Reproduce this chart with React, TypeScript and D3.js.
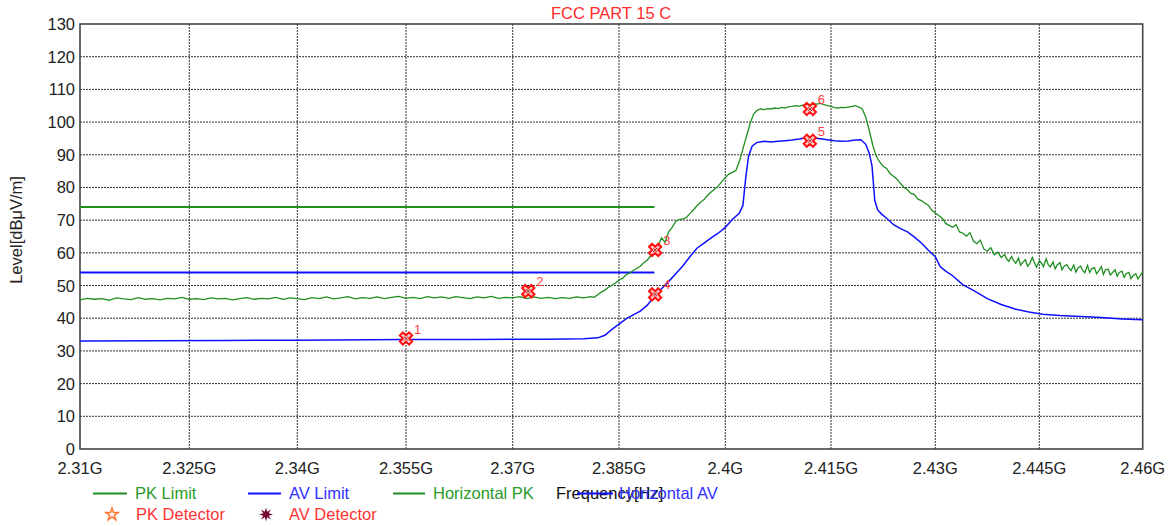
import React, { useEffect, useRef } from "react";
import * as d3 from "d3";

// ---------- data ----------
const xTicks = [2310, 2325, 2340, 2355, 2370, 2385, 2400, 2415, 2430, 2445, 2460];
const xTickLabels = ["2.31G", "2.325G", "2.34G", "2.355G", "2.37G", "2.385G", "2.4G", "2.415G", "2.43G", "2.445G", "2.46G"];
const yTicks = [0, 10, 20, 30, 40, 50, 60, 70, 80, 90, 100, 110, 120, 130];

const pkLimit: [number, number][] = [[2310, 74], [2390, 74]];
const avLimit: [number, number][] = [[2310, 54], [2390, 54]];

const horizontalPK: [number, number][] = [
  [2310, 45.6], [2311, 46.1], [2312, 45.8], [2313, 46.0], [2314, 45.5], [2315, 46.2], [2316, 45.9], [2317, 45.7],
  [2318, 46.3], [2319, 45.8], [2320, 46.0], [2321, 45.6], [2322, 46.1], [2323, 45.9], [2324, 46.4], [2325, 45.8],
  [2326, 46.0], [2327, 45.7], [2328, 46.2], [2329, 45.9], [2330, 46.1], [2331, 45.6], [2332, 46.0], [2333, 46.3],
  [2334, 45.8], [2335, 46.1], [2336, 45.9], [2337, 46.4], [2338, 45.8], [2339, 46.2], [2340, 46.0], [2341, 45.7],
  [2342, 46.3], [2343, 46.0], [2344, 46.5], [2345, 45.9], [2346, 46.2], [2347, 46.6], [2348, 45.9], [2349, 46.3],
  [2350, 46.1], [2351, 46.5], [2352, 46.0], [2353, 46.4], [2354, 46.7], [2355, 46.1], [2356, 46.4], [2357, 46.0],
  [2358, 46.6], [2359, 46.2], [2360, 46.5], [2361, 46.1], [2362, 46.6], [2363, 46.3], [2364, 46.0], [2365, 46.5],
  [2366, 46.2], [2367, 46.7], [2368, 46.1], [2369, 46.4], [2370, 46.2], [2371, 46.6], [2372, 46.0], [2373, 46.5],
  [2374, 46.1], [2375, 46.4], [2376, 46.0], [2377, 46.3], [2378, 46.1], [2379, 46.5], [2380, 46.2], [2381, 46.6],
  [2381.5, 46.4], [2382, 47.2], [2382.5, 48.0], [2383, 48.6], [2383.5, 49.5], [2384, 50.1], [2384.5, 50.8],
  [2385, 51.7], [2385.5, 52.2], [2386, 53.3], [2386.5, 53.8], [2387, 54.6], [2387.5, 55.2], [2388, 55.9],
  [2388.5, 57.0], [2389, 57.8], [2389.5, 59.1], [2390, 60.5], [2390.5, 62.0], [2391, 64.6], [2391.5, 63.2],
  [2392, 66.4], [2392.5, 67.8], [2393, 69.6], [2393.5, 70.2], [2394, 70.4], [2394.5, 70.8], [2395, 72.0],
  [2395.5, 73.1], [2396, 74.4], [2396.5, 75.5], [2397, 76.3], [2397.5, 77.6], [2398, 78.6], [2398.5, 79.5],
  [2399, 80.4], [2399.5, 81.8], [2400, 83.0], [2400.5, 84.1], [2401, 84.6], [2401.5, 85.2], [2402, 88.0],
  [2402.5, 91.8], [2403, 95.6], [2403.5, 99.4], [2404, 102.4], [2404.5, 103.6],
  [2405, 104.0], [2405.5, 103.8], [2406, 104.1], [2406.5, 104.0], [2407, 104.3], [2407.5, 104.1], [2408, 104.5],
  [2408.5, 104.3], [2409, 104.7], [2409.5, 104.8], [2410, 105.0], [2410.5, 104.9], [2411, 105.2], [2411.5, 105.3],
  [2412, 105.4], [2412.5, 105.6], [2413, 105.5], [2413.5, 105.7], [2414, 105.3], [2414.5, 105.0], [2415, 104.8],
  [2415.5, 104.4], [2416, 104.3], [2416.5, 104.5], [2417, 104.4], [2417.5, 104.6], [2418, 104.8], [2418.5, 105.0],
  [2419, 104.6], [2419.5, 104.0], [2420, 101.5], [2420.5, 97.5], [2421, 93.0], [2421.5, 89.6], [2422, 87.8],
  [2422.5, 86.5], [2423, 85.8], [2423.5, 84.2], [2424, 83.4], [2424.5, 82.5], [2425, 81.2], [2425.5, 80.0],
  [2426, 79.3], [2426.5, 78.2], [2427, 77.8], [2427.5, 76.4], [2428, 76.0], [2428.5, 75.2], [2429, 74.6],
  [2429.5, 73.0], [2430, 72.2], [2430.5, 71.4], [2431, 70.6], [2431.5, 69.0], [2432, 68.4], [2432.5, 67.8],
  [2433, 68.6], [2433.5, 66.4], [2434, 66.0], [2434.5, 65.1], [2435, 66.2], [2435.5, 63.6], [2436, 62.8],
  [2436.5, 63.9], [2437, 61.2], [2437.5, 60.5], [2438, 61.6], [2438.5, 59.4], [2439, 60.2], [2439.5, 58.6],
  [2440, 59.5], [2440.3, 58.1], [2440.6, 57.4], [2441, 58.9], [2441.3, 57.6], [2441.6, 56.8], [2442, 58.4],
  [2442.3, 56.2], [2442.6, 57.1], [2443, 57.9], [2443.3, 55.9], [2443.6, 56.6], [2444, 58.6], [2444.3, 57.0],
  [2444.6, 55.6], [2445, 57.6], [2445.3, 56.9], [2445.6, 55.8], [2446, 58.2], [2446.3, 56.4], [2446.6, 55.7],
  [2447, 57.2], [2447.3, 55.1], [2447.6, 56.3], [2448, 57.0], [2448.3, 54.8], [2448.6, 55.9], [2449, 56.4],
  [2449.3, 55.3], [2449.6, 54.6], [2450, 56.3], [2450.3, 54.1], [2450.6, 55.4], [2451, 55.9], [2451.3, 54.6],
  [2451.6, 53.9], [2452, 56.2], [2452.3, 54.0], [2452.6, 55.1], [2453, 55.5], [2453.3, 53.6], [2453.6, 54.4],
  [2454, 55.8], [2454.3, 53.4], [2454.6, 54.9], [2455, 55.0], [2455.3, 53.2], [2455.6, 53.9], [2456, 54.8],
  [2456.3, 52.8], [2456.6, 54.0], [2457, 54.4], [2457.3, 52.5], [2457.6, 53.6], [2458, 54.0], [2458.3, 52.1],
  [2458.6, 53.0], [2459, 53.6], [2459.3, 52.0], [2459.6, 52.9], [2460, 54.2],
];

const horizontalAV: [number, number][] = [
  [2310, 33.0], [2320, 33.1], [2330, 33.2], [2340, 33.3], [2350, 33.4], [2355, 33.5], [2365, 33.5], [2375, 33.6],
  [2380, 33.7], [2382, 34.0], [2383, 34.8], [2384, 36.6], [2385, 38.2], [2386, 39.8], [2387, 41.0], [2388, 42.2],
  [2389, 44.0], [2390, 46.8], [2391, 49.0], [2392, 51.2], [2393, 53.6], [2394, 56.0], [2395, 58.8], [2396, 61.4],
  [2397, 63.0], [2398, 64.6], [2399, 66.0], [2400, 67.8], [2401, 70.2], [2402, 72.2], [2402.5, 74.5], [2402.9, 83.0],
  [2403.3, 89.5], [2403.8, 92.6], [2404.5, 93.8], [2405.5, 94.1], [2406.5, 93.9], [2407.5, 94.1], [2408.5, 94.3],
  [2409.5, 94.5], [2410.5, 94.8], [2411.5, 95.2], [2412.5, 95.1], [2413.5, 94.9], [2414.5, 94.6], [2415.5, 94.3],
  [2416.5, 94.1], [2417.5, 94.2], [2418.5, 94.5], [2419.3, 94.6], [2420, 93.2], [2420.5, 90.5], [2420.9, 86.5],
  [2421.3, 76.0], [2421.7, 73.2], [2422.2, 72.0], [2423, 70.6], [2424, 68.6], [2425, 67.4], [2426, 66.4],
  [2427, 64.8], [2428, 63.0], [2429, 60.8], [2430, 58.8], [2430.7, 55.8], [2431.5, 54.4], [2432.5, 53.0],
  [2434, 50.2], [2435.5, 48.5], [2437.5, 46.0], [2439.5, 44.2], [2441.5, 42.8], [2443.5, 41.9], [2445.5, 41.2],
  [2448, 40.8], [2451, 40.5], [2454, 40.2], [2457, 39.8], [2460, 39.5],
];

const markerIds = [1, 2, 3, 4, 5, 6];
const markerFreqs = [2355, 2372.2, 2390.1, 2390.1, 2412, 2412];
const markerLevels = [33.8, 48.3, 60.9, 47.3, 94.3, 104.0];

// ---------- layout ----------
const W = 1172, H = 526;
const top = 24, bottom = 449;
const xRange = [80, 189.3, 297.3, 406, 512.7, 619, 725.3, 831, 935.3, 1039.3, 1142.7];
const FONT = "Arial, 'Liberation Sans', sans-serif";
const GREEN = "#1f8f1f";
const BLUE = "#1010ff";

export default function App() {
  const ref = useRef<SVGSVGElement>(null);

  useEffect(() => {
    document.body.style.margin = "0";
    const svg = d3.select(ref.current);
    svg.selectAll("*").remove();

    const x = d3.scaleLinear().domain(xTicks).range(xRange);
    const y = d3.scaleLinear().domain([0, 130]).range([bottom, top]);
    const left = xRange[0], right = xRange[xRange.length - 1];

    svg.append("rect").attr("width", W).attr("height", H).attr("fill", "#fff");

    // title
    svg.append("text").attr("x", 611).attr("y", 19).attr("text-anchor", "middle")
      .attr("font-family", FONT).attr("font-size", 16.5).attr("fill", "#ff2a2a").text("FCC PART 15 C");

    // grid
    const g = svg.append("g");
    g.selectAll(".hg").data(yTicks.slice(1, -1)).enter().append("line")
      .attr("x1", left).attr("x2", right).attr("y1", d => y(d)).attr("y2", d => y(d))
      .attr("stroke", "#333").attr("stroke-width", 1).attr("stroke-dasharray", "2,1");
    g.selectAll(".vg").data(xTicks.slice(1, -1)).enter().append("line")
      .attr("y1", top).attr("y2", bottom).attr("x1", d => x(d)).attr("x2", d => x(d))
      .attr("stroke", "#333").attr("stroke-width", 1).attr("stroke-dasharray", "2,1");

    // border
    svg.append("rect").attr("x", left).attr("y", top).attr("width", right - left).attr("height", bottom - top)
      .attr("fill", "none").attr("stroke", "#444").attr("stroke-width", 1.6);

    // tick labels
    svg.selectAll(".yl").data(yTicks).enter().append("text")
      .attr("x", 75).attr("y", d => y(d) + 6).attr("text-anchor", "end")
      .attr("font-family", FONT).attr("font-size", 16.5).attr("fill", "#222").text(d => String(d));
    svg.selectAll(".xl").data(xTicks).enter().append("text")
      .attr("x", d => x(d)).attr("y", 474).attr("text-anchor", "middle")
      .attr("font-family", FONT).attr("font-size", 16.5).attr("fill", "#222")
      .text((d, i) => xTickLabels[i]);

    // y label
    svg.append("text").attr("transform", "translate(22,230) rotate(-90)").attr("text-anchor", "middle")
      .attr("font-family", FONT).attr("font-size", 16.5).attr("fill", "#222").text("Level[dBμV/m]");

    const line = d3.line<[number, number]>().x(d => x(d[0])).y(d => y(d[1]));

    const plot = svg.append("g");
    plot.append("path").attr("d", line(pkLimit)).attr("fill", "none").attr("stroke", GREEN).attr("stroke-width", 2);
    plot.append("path").attr("d", line(avLimit)).attr("fill", "none").attr("stroke", BLUE).attr("stroke-width", 2);
    plot.append("path").attr("d", line(horizontalAV)).attr("fill", "none").attr("stroke", BLUE).attr("stroke-width", 1.5);
    plot.append("path").attr("d", line(horizontalPK)).attr("fill", "none").attr("stroke", GREEN).attr("stroke-width", 1.3);

    // markers
    const sym = d3.symbol().type(d3.symbolCross).size(95)();
    markerIds.forEach((id, i) => {
      const mx = x(markerFreqs[i]), my = y(markerLevels[i]);
      const mg = plot.append("g").attr("transform", `translate(${mx},${my})`);
      mg.append("path").attr("d", sym).attr("transform", "rotate(45)")
        .attr("fill", "#ffd0d0").attr("stroke", "#ff1010").attr("stroke-width", 2);
      mg.append("path").attr("d", "M-2,-2L2,2M-2,2L2,-2").attr("stroke", "#a02020").attr("stroke-width", 1);
      plot.append("text").attr("x", mx + 8).attr("y", my - 5).attr("font-family", FONT)
        .attr("font-size", 13).attr("fill", "#ff4040").text(String(id));
    });

    // legend
    const leg = svg.append("g").attr("font-family", FONT).attr("font-size", 16.5);
    const row1y = 493.5, row1base = 499;
    const items = [
      { x1: 93, x2: 127, tx: 135, color: GREEN, tcolor: "#2a9a2a", label: "PK Limit" },
      { x1: 248, x2: 281, tx: 289, color: BLUE, tcolor: "#3030ff", label: "AV Limit" },
      { x1: 393, x2: 425, tx: 433, color: GREEN, tcolor: "#2a9a2a", label: "Horizontal PK" },
    ];
    items.forEach(it => {
      leg.append("line").attr("x1", it.x1).attr("x2", it.x2).attr("y1", row1y).attr("y2", row1y)
        .attr("stroke", it.color).attr("stroke-width", 2);
      leg.append("text").attr("x", it.tx).attr("y", row1base).attr("fill", it.tcolor).text(it.label);
    });
    // x axis title (overlaps the last legend entry, as in the source chart)
    leg.append("text").attr("x", 556).attr("y", row1base).attr("fill", "#111").text("Frequency[Hz]");
    leg.append("line").attr("x1", 577).attr("x2", 613).attr("y1", row1y).attr("y2", row1y)
      .attr("stroke", BLUE).attr("stroke-width", 2);
    leg.append("text").attr("x", 619).attr("y", row1base).attr("fill", "#3030ff").text("Horizontal AV");

    // row 2
    const row2y = 514.5, row2base = 520;
    leg.append("path").attr("d", d3.symbol().type(d3.symbolStar).size(45)())
      .attr("transform", `translate(112,${row2y})`).attr("fill", "#fff").attr("stroke", "#ff7a3a").attr("stroke-width", 1.6);
    leg.append("text").attr("x", 136).attr("y", row2base).attr("fill", "#ff3333").text("PK Detector");
    const burstPts: [number, number][] = d3.range(16).map(k => [k * Math.PI / 8, k % 2 === 0 ? 7 : 3]);
    const burst = d3.lineRadial<[number, number]>().angle(d => d[0]).radius(d => d[1]).curve(d3.curveLinearClosed);
    leg.append("path").attr("d", burst(burstPts)).attr("transform", `translate(266,${row2y})`).attr("fill", "#7a0a3a");
    leg.append("text").attr("x", 289).attr("y", row2base).attr("fill", "#ff3333").text("AV Detector");
  }, []);

  return <svg ref={ref} width={W} height={H} style={{ display: "block" }} />;
}
